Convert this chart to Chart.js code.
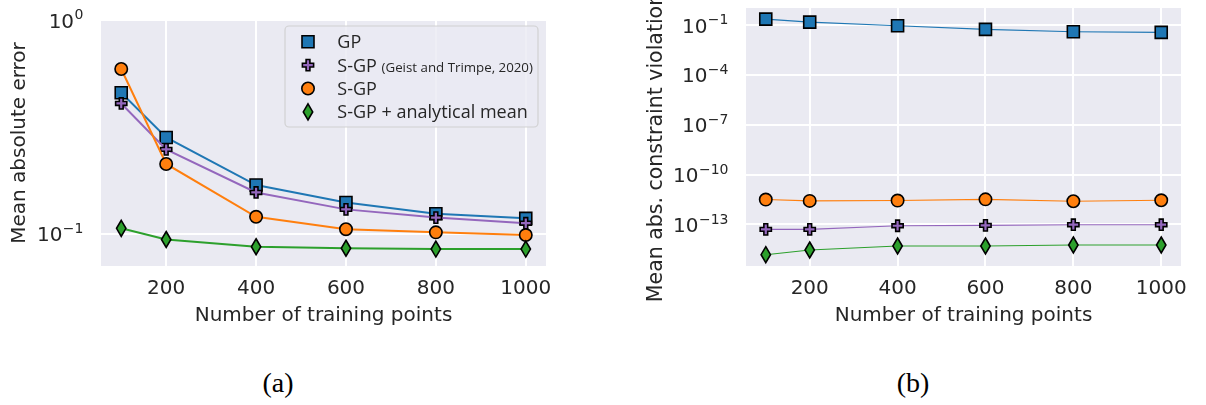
<!DOCTYPE html>
<html>
<head>
<meta charset="utf-8">
<script src="https://cdn.jsdelivr.net/npm/chart.js@4.4.1/dist/chart.umd.min.js"></script>
<style>
  html, body { margin: 0; padding: 0; background: #fff; }
  body { width: 1206px; height: 405px; position: relative; overflow: hidden; }
  canvas { position: absolute; top: 0; }
  #chartA { left: 0; }
  #chartB { left: 600px; }
  .caption {
    position: absolute; top: 383px; transform: translate(-50%, -50%);
    font-family: "Liberation Serif", serif; font-size: 28px; line-height: 1; color: #000;
  }
</style>
</head>
<body>
<canvas id="chartA" width="600" height="340"></canvas>
<canvas id="chartB" width="606" height="340"></canvas>
<div class="caption" style="left:278px">(a)</div>
<div class="caption" style="left:913px">(b)</div>
<script>
// ---- data ----
const trainingPoints = [100, 200, 400, 600, 800, 1000];
const xTicks = [200, 400, 600, 800, 1000];
const xTickLabels = ['200', '400', '600', '800', '1000'];

const seriesNames = ['GP', 'S-GP', 'S-GP', 'S-GP + analytical mean'];
const seriesNotes = ['', '(Geist and Trimpe, 2020)', '', ''];
const seriesColors = ['#1f77b4', '#9467bd', '#ff7f0e', '#2ca02c'];
const seriesMarkers = ['square', 'plus', 'circle', 'diamond'];

// (a) mean absolute error
const maeGP       = [0.457, 0.282, 0.169, 0.140, 0.124, 0.118];
const maeSGPGeist = [0.407, 0.248, 0.156, 0.130, 0.119, 0.112];
const maeSGP      = [0.590, 0.212, 0.120, 0.105, 0.1015, 0.0986];
const maeSGPMean  = [0.106, 0.094, 0.0869, 0.0855, 0.0848, 0.0848];
const errorTicks = [0.1, 1];

// (b) mean absolute constraint violation
const violGP       = [0.230, 0.152, 0.091, 0.055, 0.0395, 0.0363];
const violSGPGeist = [5.0e-14, 5.0e-14, 8.2e-14, 8.7e-14, 9.5e-14, 9.5e-14];
const violSGP      = [3.1e-12, 2.57e-12, 2.7e-12, 3.2e-12, 2.45e-12, 2.8e-12];
const violSGPMean  = [1.48e-15, 2.84e-15, 4.94e-15, 4.94e-15, 5.7e-15, 5.7e-15];
const violationTicks = [1e-13, 1e-10, 1e-7, 1e-4, 1e-1];

// ---- styling ----
const TEXT = '#262626';
const FONT = '"DejaVu Sans", sans-serif';
const LEGEND_FONT = '"Open Sans", sans-serif';

function markerPath(ctx, kind, x, y) {
  ctx.beginPath();
  if (kind === 'square') {
    ctx.rect(x - 6, y - 6, 12, 12);
  } else if (kind === 'circle') {
    ctx.arc(x, y, 6.2, 0, Math.PI * 2);
  } else if (kind === 'diamond') {
    ctx.moveTo(x, y - 8); ctx.lineTo(x + 4.7, y); ctx.lineTo(x, y + 8); ctx.lineTo(x - 4.7, y); ctx.closePath();
  } else if (kind === 'plus') {
    const s = 5.6, t = 1.9;
    ctx.moveTo(x - t, y - s); ctx.lineTo(x + t, y - s); ctx.lineTo(x + t, y - t); ctx.lineTo(x + s, y - t);
    ctx.lineTo(x + s, y + t); ctx.lineTo(x + t, y + t); ctx.lineTo(x + t, y + s); ctx.lineTo(x - t, y + s);
    ctx.lineTo(x - t, y + t); ctx.lineTo(x - s, y + t); ctx.lineTo(x - s, y - t); ctx.lineTo(x - t, y - t);
    ctx.closePath();
  }
}
function drawMarker(ctx, kind, x, y, color) {
  ctx.save();
  markerPath(ctx, kind, x, y);
  ctx.fillStyle = color; ctx.fill();
  ctx.lineWidth = 1.6; ctx.strokeStyle = '#000'; ctx.lineJoin = 'miter';
  ctx.stroke();
  ctx.restore();
}

// plot background
const areaBackground = {
  id: 'areaBackground',
  beforeDraw(chart) {
    const { ctx, chartArea: a } = chart;
    ctx.save(); ctx.fillStyle = '#eaeaf2';
    ctx.fillRect(a.left, a.top, a.right - a.left, a.bottom - a.top);
    ctx.restore();
  }
};

// markers drawn right after each dataset's line, so later series sit on top
const seriesMarkersPlugin = {
  id: 'seriesMarkers',
  afterDatasetDraw(chart, args) {
    const ds = chart.data.datasets[args.index];
    args.meta.data.forEach(pt => drawMarker(chart.ctx, ds.marker, pt.x, pt.y, ds.borderColor));
  }
};

// power-of-ten tick labels with raised exponents
const powerLabels = {
  id: 'powerLabels',
  afterDraw(chart) {
    const s = chart.scales.y, ctx = chart.ctx;
    const right = chart.chartArea.left - 17.5;
    ctx.save(); ctx.fillStyle = TEXT; ctx.textBaseline = 'alphabetic'; ctx.textAlign = 'left';
    s.ticks.forEach(t => {
      const y = s.getPixelForValue(t.value);
      const e = Math.round(Math.log10(t.value));
      const sup = e < 0 ? '\u2212' + (-e) : String(e);
      ctx.font = '14px ' + FONT; const sw = ctx.measureText(sup).width;
      ctx.font = '20px ' + FONT; const bw = ctx.measureText('10').width;
      const x0 = right - sw - bw - 0.5;
      ctx.fillText('10', x0, y + 7.5);
      ctx.font = '14px ' + FONT;
      ctx.fillText(sup, x0 + bw + 0.5, y - 0.8);
    });
    ctx.restore();
  }
};

// rotated y-axis title
const yTitle = {
  id: 'yTitle',
  afterDraw(chart, args, opts) {
    const { ctx, chartArea: a } = chart;
    const cy = opts.center != null ? opts.center : (a.top + a.bottom) / 2;
    ctx.save();
    ctx.translate(opts.baseline, cy);
    ctx.rotate(-Math.PI / 2);
    ctx.font = (opts.size || 20) + 'px ' + FONT; ctx.fillStyle = TEXT;
    ctx.textAlign = 'center'; ctx.textBaseline = 'alphabetic';
    ctx.fillText(opts.text, 0, 0);
    ctx.restore();
  }
};

// framed legend inside the plot area
const boxLegend = {
  id: 'boxLegend',
  afterDraw(chart, args, opts) {
    if (!opts.show) return;
    const ctx = chart.ctx;
    const { x, y, w, h } = opts.box;
    ctx.save();
    ctx.beginPath();
    ctx.roundRect(x, y, w, h, 4);
    ctx.fillStyle = 'rgba(234,234,242,0.8)'; ctx.fill();
    ctx.lineWidth = 1.2; ctx.strokeStyle = 'rgba(204,204,204,0.85)'; ctx.stroke();
    chart.data.datasets.forEach((ds, i) => {
      const cy = y + 15.7 + i * 23.4;
      drawMarker(ctx, ds.marker, x + 23, cy, ds.borderColor);
      ctx.fillStyle = TEXT; ctx.textBaseline = 'alphabetic'; ctx.textAlign = 'left';
      ctx.font = '18px ' + LEGEND_FONT;
      const tx = x + 52.3;
      ctx.fillText(ds.label, tx, cy + 6.4);
      if (ds.note) {
        const lw = ctx.measureText(ds.label + ' ').width;
        ctx.font = '13.3px ' + LEGEND_FONT;
        ctx.fillText(ds.note, tx + lw, cy + 6.4);
      }
    });
    ctx.restore();
  }
};

function makeChart(id, cfg) {
  const canvas = document.getElementById(id);
  const W = canvas.width, H = canvas.height;
  const a = cfg.area;
  return new Chart(canvas, {
    type: 'line',
    data: {
      datasets: cfg.series.map((vals, i) => ({
        label: seriesNames[i], note: seriesNotes[i], marker: seriesMarkers[i],
        data: trainingPoints.map((x, j) => ({ x, y: vals[j] })),
        borderColor: seriesColors[i], backgroundColor: seriesColors[i],
        borderWidth: cfg.lineWidth, pointRadius: 0, pointHoverRadius: 0,
        tension: 0, fill: false, order: cfg.series.length - 1 - i
      }))
    },
    options: {
      responsive: false, animation: false, events: [], devicePixelRatio: 1,
      layout: { padding: { left: 0, top: a.top, right: W - a.right, bottom: 0 } },
      plugins: {
        legend: { display: false }, tooltip: { enabled: false },
        yTitle: { text: cfg.yTitle, baseline: cfg.yTitleBaseline, center: cfg.yTitleCenter, size: cfg.yTitleSize },
        boxLegend: { show: !!cfg.legend, box: cfg.legend }
      },
      scales: {
        x: {
          type: 'linear', min: 55, max: 1045, bounds: 'data',
          afterBuildTicks: s => { s.ticks = xTicks.map(v => ({ value: v })); },
          afterFit: s => { s.height = H - a.bottom; },
          grid: { color: '#ffffff', lineWidth: 2, drawTicks: false },
          border: { display: false },
          ticks: {
            font: { family: FONT, size: 20 }, color: TEXT, padding: 11,
            maxRotation: 0, autoSkip: false,
            callback: (v, i) => xTickLabels[i]
          },
          title: {
            display: true, text: 'Number of training points',
            font: { family: FONT, size: 20 }, color: TEXT,
            padding: { top: 0, bottom: 12.6 }
          }
        },
        y: {
          type: 'logarithmic', min: cfg.yMin, max: cfg.yMax, bounds: 'data',
          afterBuildTicks: s => { s.ticks = cfg.yTicks.map(v => ({ value: v })); },
          afterFit: s => { s.width = a.left; },
          grid: { color: '#ffffff', lineWidth: 2, drawTicks: false },
          border: { display: false },
          ticks: { display: false }
        }
      }
    },
    plugins: [areaBackground, seriesMarkersPlugin, powerLabels, yTitle, boxLegend]
  });
}

makeChart('chartA', {
  series: [maeGP, maeSGPGeist, maeSGP, maeSGPMean],
  yMin: Math.pow(10, -1.151), yMax: 1, yTicks: errorTicks,
  area: { left: 101, right: 546, top: 20, bottom: 266 },
  lineWidth: 2,
  yTitle: 'Mean absolute error', yTitleBaseline: 25,
  legend: { x: 285, y: 26, w: 253, h: 101 }
});

makeChart('chartB', {
  series: [violGP, violSGPGeist, violSGP, violSGPMean],
  yMin: Math.pow(10, -15.51), yMax: Math.pow(10, 0.03), yTicks: violationTicks,
  area: { left: 146, right: 581, top: 8, bottom: 266 },
  lineWidth: 1.1,
  yTitle: 'Mean abs. constraint violation', yTitleBaseline: 61.5, yTitleCenter: 147.5, yTitleSize: 20.5,
  legend: null
});
</script>
</body>
</html>
